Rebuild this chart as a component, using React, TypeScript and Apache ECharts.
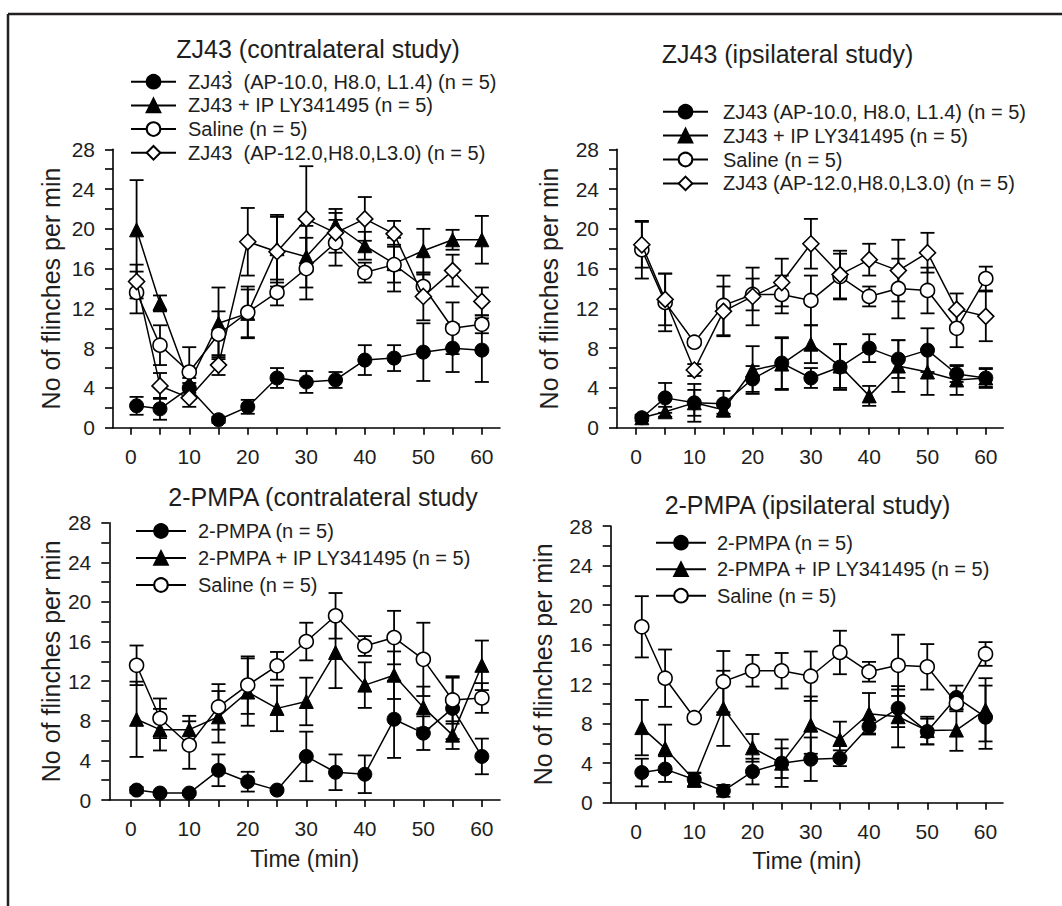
import React, { useEffect, useRef } from "react";
import * as echarts from "echarts";

const FONT = '"Liberation Sans", Arial, sans-serif';
const INK = "#1e1e1e";

const times = [1, 5, 10, 15, 20, 25, 30, 35, 40, 45, 50, 55, 60];
const xTickValues = [0, 5, 10, 15, 20, 25, 30, 35, 40, 45, 50, 55, 60];
const xLabelValues = [0, 10, 20, 30, 40, 50, 60];
const yTickValues = [0, 2, 4, 6, 8, 10, 12, 14, 16, 18, 20, 22, 24, 26, 28];
const yLabelValues = [0, 4, 8, 12, 16, 20, 24, 28];

const panelTitles = [
  "ZJ43 (contralateral study)",
  "ZJ43 (ipsilateral study)",
  "2-PMPA (contralateral study",
  "2-PMPA (ipsilateral study)",
];
const yAxisName = "No of flinches per min";
const xAxisName = "Time (min)";

// Panel A: ZJ43 contralateral
const aNames = [
  "ZJ43\u0300  (AP-10.0, H8.0, L1.4) (n = 5)",
  "ZJ43 + IP LY341495 (n = 5)",
  "Saline (n = 5)",
  "ZJ43  (AP-12.0,H8.0,L3.0) (n = 5)",
];
const aCircleMean = [2.2, 1.9, 4.0, 0.8, 2.1, 5.0, 4.6, 4.8, 6.8, 7.0, 7.6, 8.0, 7.8];
const aCircleSem = [0.9, 1.1, 0.5, 0.3, 0.7, 1.0, 1.1, 0.8, 1.5, 1.3, 2.9, 2.4, 3.2];
const aTriMean = [19.9, 12.5, 4.5, 10.5, 11.5, 18.0, 17.2, 20.4, 18.3, 16.5, 17.8, 18.9, 18.9];
const aTriSem = [5.0, 0.8, 0.5, 3.6, 2.4, 3.4, 3.1, 1.6, 1.4, 1.9, 2.2, 1.0, 2.4];
const aSalMean = [13.6, 8.3, 5.6, 9.4, 11.6, 13.6, 16.0, 18.6, 15.6, 16.4, 14.2, 10.0, 10.4];
const aSalSem = [2.1, 2.0, 2.5, 2.3, 2.6, 1.3, 3.1, 2.3, 1.0, 2.7, 1.2, 2.6, 0.9];
const aDiaMean = [14.7, 4.2, 3.0, 6.3, 18.7, 17.7, 21.0, 19.6, 21.0, 19.5, 13.2, 15.8, 12.7];
const aDiaSem = [1.7, 1.3, 0.9, 1.0, 3.4, 3.5, 5.3, 2.0, 2.2, 1.3, 2.4, 1.6, 1.4];

// Panel B: ZJ43 ipsilateral
const bNames = [
  "ZJ43 (AP-10.0, H8.0, L1.4) (n = 5)",
  "ZJ43 + IP LY341495 (n = 5)",
  "Saline (n = 5)",
  "ZJ43 (AP-12.0,H8.0,L3.0) (n = 5)",
];
const bCircleMean = [1.0, 3.0, 2.5, 2.4, 4.9, 6.5, 5.0, 6.1, 8.0, 6.9, 7.8, 5.4, 5.0];
const bCircleSem = [0.3, 1.5, 1.9, 1.3, 1.3, 2.6, 1.0, 2.3, 1.4, 1.9, 2.2, 0.8, 0.9];
const bTriMean = [1.0, 1.6, 2.5, 1.8, 5.8, 6.4, 8.4, 6.2, 3.2, 6.2, 5.6, 4.8, 5.0];
const bTriSem = [0.3, 0.5, 1.3, 0.4, 2.4, 2.6, 1.9, 2.2, 1.0, 2.6, 2.3, 1.5, 1.0];
const bSalMean = [17.9, 12.6, 8.6, 12.3, 13.4, 13.4, 12.8, 15.2, 13.2, 14.0, 13.8, 10.0, 15.0];
const bSalSem = [2.9, 2.9, 0.3, 3.0, 1.6, 1.9, 2.5, 2.3, 1.0, 3.0, 2.3, 1.9, 1.2];
const bDiaMean = [18.4, 12.9, 5.8, 11.7, 13.2, 14.6, 18.5, 15.4, 16.9, 15.8, 17.6, 11.9, 11.2];
const bDiaSem = [2.3, 2.6, 0.6, 2.5, 2.9, 2.4, 2.5, 2.4, 1.6, 3.1, 2.0, 1.6, 2.5];

// Panel C: 2-PMPA contralateral
const cNames = ["2-PMPA (n = 5)", "2-PMPA + IP LY341495 (n = 5)", "Saline (n = 5)"];
const cCircleMean = [1.0, 0.7, 0.7, 3.0, 1.85, 1.0, 4.4, 2.8, 2.6, 8.15, 6.75, 9.25, 4.4];
const cCircleSem = [0.3, 0.2, 0.2, 1.6, 1.0, 0.2, 2.5, 1.8, 1.9, 3.9, 1.7, 3.1, 1.8];
const cTriMean = [8.15, 7.1, 7.1, 8.4, 10.9, 9.25, 9.95, 14.9, 11.6, 12.6, 9.35, 6.55, 13.6];
const cTriSem = [3.8, 2.1, 1.4, 2.6, 3.4, 2.3, 2.4, 3.6, 2.3, 2.4, 2.1, 1.4, 2.5];
const cSalMean = [13.6, 8.25, 5.55, 9.4, 11.6, 13.55, 16.0, 18.6, 15.55, 16.4, 14.2, 10.1, 10.3];
const cSalSem = [2.0, 2.0, 2.4, 2.3, 2.9, 1.4, 1.9, 2.3, 1.0, 2.7, 3.7, 2.4, 1.5];

// Panel D: 2-PMPA ipsilateral
const dNames = ["2-PMPA (n = 5)", "2-PMPA + IP LY341495 (n = 5)", "Saline (n = 5)"];
const dCircleMean = [3.05, 3.4, 2.35, 1.2, 3.15, 4.0, 4.4, 4.5, 7.7, 9.55, 7.2, 10.65, 8.65];
const dCircleSem = [1.4, 1.3, 0.7, 0.6, 1.3, 1.5, 2.2, 0.8, 0.7, 1.9, 1.3, 1.2, 3.2];
const dTriMean = [7.6, 5.5, 2.3, 9.55, 5.55, 4.0, 7.85, 6.4, 9.0, 8.7, 7.3, 7.35, 9.4];
const dTriSem = [2.8, 2.4, 0.7, 3.8, 1.4, 2.4, 2.9, 1.8, 2.1, 3.1, 1.4, 2.1, 3.2];
const dSalMean = [17.8, 12.6, 8.6, 12.25, 13.35, 13.35, 12.8, 15.2, 13.25, 13.9, 13.75, 10.05, 15.05];
const dSalSem = [3.1, 2.9, 0.3, 3.1, 1.6, 1.8, 2.5, 2.2, 1.0, 3.1, 2.3, 0.8, 1.2];

type Kind = "filledCircle" | "triangle" | "openCircle" | "diamond";

const markerStyle = (kind: Kind) => {
  switch (kind) {
    case "filledCircle":
      return { symbol: "circle", symbolSize: 14, itemStyle: { color: "#000", borderColor: "#000", borderWidth: 1 } };
    case "triangle":
      return { symbol: "triangle", symbolSize: 14, itemStyle: { color: "#000", borderColor: "#000", borderWidth: 1 } };
    case "openCircle":
      return { symbol: "circle", symbolSize: 14, itemStyle: { color: "#fff", borderColor: "#000", borderWidth: 1.6 } };
    case "diamond":
      return { symbol: "diamond", symbolSize: 16, itemStyle: { color: "#fff", borderColor: "#000", borderWidth: 1.6 } };
  }
};

const panels = [
  {
    grid: { left: 113, top: 149.3, width: 387, height: 278.4 },
    xMin: -3.03, xMax: 63.1, nameGapY: 50, showXName: false,
    legend: { left: 130, top: 71.7, itemGap: 3.7, textPad: 7 },
    title: { x: 318, y: 49 },
    series: [
      { name: aNames[0], kind: "filledCircle" as Kind, mean: aCircleMean, sem: aCircleSem },
      { name: aNames[1], kind: "triangle" as Kind, mean: aTriMean, sem: aTriSem },
      { name: aNames[2], kind: "openCircle" as Kind, mean: aSalMean, sem: aSalSem },
      { name: aNames[3], kind: "diamond" as Kind, mean: aDiaMean, sem: aDiaSem },
    ],
  },
  {
    grid: { left: 617, top: 149.3, width: 386.3, height: 278.4 },
    xMin: -3.26, xMax: 63.0, nameGapY: 56, showXName: false,
    legend: { left: 662, top: 101.7, itemGap: 3.9, textPad: 10 },
    title: { x: 787.5, y: 54 },
    series: [
      { name: bNames[0], kind: "filledCircle" as Kind, mean: bCircleMean, sem: bCircleSem },
      { name: bNames[1], kind: "triangle" as Kind, mean: bTriMean, sem: bTriSem },
      { name: bNames[2], kind: "openCircle" as Kind, mean: bSalMean, sem: bSalSem },
      { name: bNames[3], kind: "diamond" as Kind, mean: bDiaMean, sem: bDiaSem },
    ],
  },
  {
    grid: { left: 109.3, top: 522.7, width: 390.7, height: 277.3 },
    xMin: -3.66, xMax: 63.1, nameGapY: 46, showXName: true,
    legend: { left: 135, top: 521, itemGap: 7, textPad: 7, itemWidth: 50 },
    title: { x: 323, y: 497 },
    series: [
      { name: cNames[0], kind: "filledCircle" as Kind, mean: cCircleMean, sem: cCircleSem },
      { name: cNames[1], kind: "triangle" as Kind, mean: cTriMean, sem: cTriSem },
      { name: cNames[2], kind: "openCircle" as Kind, mean: cSalMean, sem: cSalSem },
    ],
  },
  {
    grid: { left: 610.7, top: 526, width: 392.3, height: 276.7 },
    xMin: -4.34, xMax: 63.0, nameGapY: 55, showXName: true,
    legend: { left: 655, top: 532.7, itemGap: 6.5, textPad: 6, itemWidth: 50 },
    title: { x: 807.5, y: 505 },
    series: [
      { name: dNames[0], kind: "filledCircle" as Kind, mean: dCircleMean, sem: dCircleSem },
      { name: dNames[1], kind: "triangle" as Kind, mean: dTriMean, sem: dTriSem },
      { name: dNames[2], kind: "openCircle" as Kind, mean: dSalMean, sem: dSalSem },
    ],
  },
];

function errorBarRender(params: any, api: any) {
  const x = api.value(0);
  const y = api.value(1);
  const e = api.value(2);
  const top = api.coord([x, y + e]);
  const bot = api.coord([x, y - e]);
  const hw = 7;
  const st = { stroke: "#000", lineWidth: 1.8 };
  return {
    type: "group",
    children: [
      { type: "line", shape: { x1: top[0], y1: top[1], x2: bot[0], y2: bot[1] }, style: st },
      { type: "line", shape: { x1: top[0] - hw, y1: top[1], x2: top[0] + hw, y2: top[1] }, style: st },
      { type: "line", shape: { x1: bot[0] - hw, y1: bot[1], x2: bot[0] + hw, y2: bot[1] }, style: st },
    ],
  };
}

function buildOption() {
  const grid: any[] = [];
  const xAxis: any[] = [];
  const yAxis: any[] = [];
  const legend: any[] = [];
  const series: any[] = [];
  const graphic: any[] = [];

  panels.forEach((p, i) => {
    grid.push({ ...p.grid, containLabel: false });
    xAxis.push({
      type: "value",
      gridIndex: i,
      min: p.xMin,
      max: p.xMax,
      name: p.showXName ? xAxisName : "",
      nameLocation: "middle",
      nameGap: 47,
      nameTextStyle: { fontSize: 23, color: INK, fontFamily: FONT },
      axisLine: { show: true, onZero: false, lineStyle: { color: "#000", width: 1.6 } },
      axisTick: { show: true, customValues: xTickValues, length: 7, lineStyle: { color: "#000", width: 1.6 } },
      axisLabel: { show: true, customValues: xLabelValues, fontSize: 21, color: INK, fontFamily: FONT, margin: 18 },
      splitLine: { show: false },
    });
    yAxis.push({
      type: "value",
      gridIndex: i,
      min: 0,
      max: 28,
      name: yAxisName,
      nameLocation: "middle",
      nameGap: p.nameGapY,
      nameRotate: 90,
      nameTextStyle: { fontSize: 25, color: INK, fontFamily: FONT },
      axisLine: { show: true, onZero: false, lineStyle: { color: "#000", width: 1.6 } },
      axisTick: { show: true, customValues: yTickValues, length: 8, lineStyle: { color: "#000", width: 1.6 } },
      axisLabel: { show: true, customValues: yLabelValues, fontSize: 21, color: INK, fontFamily: FONT, margin: 18 },
      splitLine: { show: false },
    });
    legend.push({
      orient: "vertical",
      left: p.legend.left,
      top: p.legend.top,
      padding: 0,
      itemWidth: (p.legend as any).itemWidth || 45,
      itemHeight: 17,
      itemGap: p.legend.itemGap,
      selectedMode: false,
      data: p.series.map((s) => s.name),
      textStyle: { fontSize: 20, color: INK, fontFamily: FONT, lineHeight: 20, padding: [0, 0, 0, p.legend.textPad] },
    });
    graphic.push({
      type: "text",
      x: p.title.x,
      y: p.title.y,
      style: {
        text: panelTitles[i],
        font: `25px ${FONT}`,
        fill: INK,
        textAlign: "center",
        textVerticalAlign: "middle",
      },
    });
    p.series.forEach((s) => {
      series.push({
        type: "custom",
        name: s.name + " SEM",
        xAxisIndex: i,
        yAxisIndex: i,
        z: 1,
        renderItem: errorBarRender,
        encode: { x: 0, y: 1 },
        data: times.map((t, k) => [t, s.mean[k], s.sem[k]]),
        silent: true,
      });
    });
    p.series.forEach((s, j) => {
      const m = markerStyle(s.kind);
      series.push({
        type: "line",
        name: s.name,
        xAxisIndex: i,
        yAxisIndex: i,
        z: 3 + j,
        data: times.map((t, k) => [t, s.mean[k]]),
        symbol: m.symbol,
        symbolSize: m.symbolSize,
        showAllSymbol: true,
        itemStyle: m.itemStyle,
        lineStyle: { color: "#000", width: 1.5 },
        emphasis: { disabled: true },
      });
    });
  });

  // figure frame (top and left edges)
  graphic.push({ type: "line", shape: { x1: 8, y1: 14, x2: 1062, y2: 14 }, style: { stroke: "#231f20", lineWidth: 2.5 } });
  graphic.push({ type: "line", shape: { x1: 8, y1: 14, x2: 8, y2: 906 }, style: { stroke: "#231f20", lineWidth: 2.5 } });

  return {
    animation: false,
    backgroundColor: "#ffffff",
    textStyle: { fontFamily: FONT },
    grid,
    xAxis,
    yAxis,
    legend,
    series,
    graphic,
  };
}

export default function App() {
  const ref = useRef<HTMLDivElement>(null);
  useEffect(() => {
    if (!ref.current) return;
    const chart = echarts.init(ref.current, undefined, { renderer: "svg" });
    chart.setOption(buildOption() as any);
    return () => chart.dispose();
  }, []);
  return (
    <div
      ref={ref}
      style={{ position: "fixed", left: 0, top: 0, width: 1062, height: 906, background: "#fff" }}
    />
  );
}
